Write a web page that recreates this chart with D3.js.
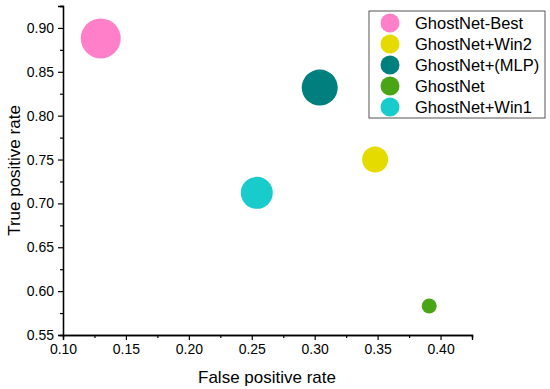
<!DOCTYPE html>
<html>
<head>
<meta charset="utf-8">
<script src="https://cdn.jsdelivr.net/npm/d3@7"></script>
<style>
  body { margin: 0; background: #fff; }
  text { font-family: "Liberation Sans", Arial, sans-serif; fill: #000; }
</style>
</head>
<body>
<div id="container"></div>
<script>
/* DATA */
const models = ["GhostNet-Best", "GhostNet+Win2", "GhostNet+(MLP)", "GhostNet", "GhostNet+Win1"];
const fpr = [0.130, 0.348, 0.304, 0.391, 0.254];
const tpr = [0.888, 0.750, 0.832, 0.583, 0.712];
const bubble = [20, 13, 18, 7.5, 16];
const colors = ["#ff7fc9", "#e6db00", "#007f7f", "#4aa516", "#19cccc"];
const xTicks = [0.10, 0.15, 0.20, 0.25, 0.30, 0.35, 0.40];
const yTicks = [0.55, 0.60, 0.65, 0.70, 0.75, 0.80, 0.85, 0.90];

const data = models.map((m, i) => ({ model: m, fpr: fpr[i], tpr: tpr[i], size: bubble[i], color: colors[i] }));

/* CONSTANTS */
const width = 550, height = 389;
const mLeft = 63, mRight = 472, mTop = 6, mBottom = 335;

const svg = d3.select("#container").append("svg")
  .attr("width", width)
  .attr("height", height);

/* SCALES */
const xScale = d3.scaleLinear().domain([0.10, 0.425]).range([mLeft, mRight]);
const yScale = d3.scaleLinear().domain([0.55, 0.925]).range([mBottom, mTop]);
const rScale = d3.scaleLinear().domain([0, 20]).range([0, 20]);

/* AXES */
// minor ticks first, then major
const xMinor = d3.range(0.125, 0.43, 0.05);
const yMinor = d3.range(0.575, 0.93, 0.05);

const gx = svg.append("g").attr("transform", `translate(0,${mBottom})`);
gx.call(d3.axisBottom(xScale).tickValues(xMinor).tickSize(3).tickFormat(""));
gx.append("g").call(d3.axisBottom(xScale).tickValues(xTicks).tickSize(5).tickPadding(4).tickFormat(d3.format(".2f")));

const gy = svg.append("g").attr("transform", `translate(${mLeft},0)`);
gy.call(d3.axisLeft(yScale).tickValues(yMinor).tickSize(3).tickFormat(""));
gy.append("g").call(d3.axisLeft(yScale).tickValues(yTicks).tickSize(5).tickPadding(4).tickFormat(d3.format(".2f")));

svg.selectAll(".domain").attr("stroke", "#000").attr("stroke-width", 1.3);
svg.selectAll(".tick line").attr("stroke", "#000").attr("stroke-width", 1.2);
svg.selectAll(".tick text").style("font-size", "14px").style("font-family", "Liberation Sans, Arial, sans-serif");

// axis titles
svg.append("text")
  .attr("x", 267).attr("y", 383)
  .attr("text-anchor", "middle")
  .style("font-size", "17px")
  .text("False positive rate");

svg.append("text")
  .attr("transform", `translate(20,${(mTop + mBottom) / 2}) rotate(-90)`)
  .attr("text-anchor", "middle")
  .style("font-size", "17px")
  .text("True positive rate");

/* BUBBLES */
svg.selectAll("circle.bubble")
  .data(data)
  .join("circle")
  .attr("class", "bubble")
  .attr("cx", d => xScale(d.fpr))
  .attr("cy", d => yScale(d.tpr))
  .attr("r", d => rScale(d.size))
  .attr("fill", d => d.color);

/* LEGEND */
const legend = svg.append("g").attr("transform", "translate(369,11)");
legend.append("rect")
  .attr("width", 176).attr("height", 107)
  .attr("fill", "#fff")
  .attr("stroke", "#555").attr("stroke-width", 1);

const rows = legend.selectAll("g.row")
  .data(data)
  .join("g")
  .attr("class", "row")
  .attr("transform", (d, i) => `translate(0,${12 + i * 21})`);

rows.append("circle").attr("cx", 21).attr("cy", 0).attr("r", 9.5).attr("fill", d => d.color);
rows.append("text").attr("x", 46).attr("y", 6).style("font-size", "16.5px").text(d => d.model);
</script>
</body>
</html>
